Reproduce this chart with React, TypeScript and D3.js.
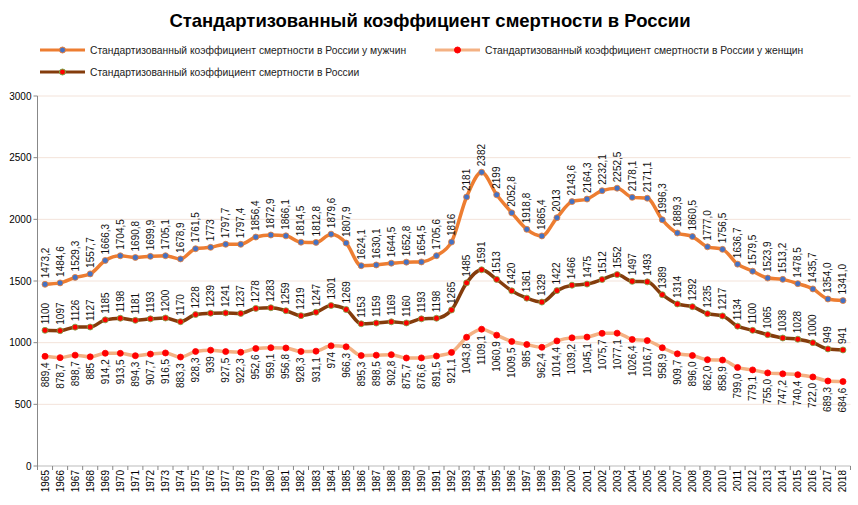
import React from "react";
import * as d3 from "d3";

const years = d3.range(1965, 2019).map(String);
const men = [1473.2,1484.6,1529.3,1557.7,1666.3,1704.5,1690.8,1699.9,1705.1,1678.9,1761.5,1773,1797.7,1797.4,1856.4,1872.9,1866.1,1814.5,1812.8,1879.6,1807.9,1624.1,1630.1,1644.5,1652.8,1654.5,1705.6,1816,2181,2382,2199,2052.8,1918.8,1865.4,2013,2143.6,2164.3,2232.1,2252.5,2178.1,2171.1,1996.3,1889.3,1860.5,1777.0,1756.5,1636.7,1579.5,1523.9,1513.2,1478.5,1435.7,1354.0,1341.0];
const total = [1100,1097,1126,1127,1185,1198,1181,1193,1200,1170,1228,1239,1241,1237,1278,1283,1259,1219,1247,1301,1269,1153,1159,1169,1160,1193,1198,1265,1485,1591,1513,1420,1361,1329,1422,1466,1475,1512,1552,1497,1493,1389,1314,1292,1235,1217,1134,1100,1065,1038,1028,1000,949,941];
const women = [889.4,878.7,898.7,885,914.2,913.5,894.3,907.7,916.5,883.3,928.3,939,927.5,922.3,952.6,959.1,956.8,928.3,931.1,974,966.3,895.3,898.5,902.8,875.7,876.6,891.5,921.1,1043.8,1109.1,1060.9,1009.5,985,962.4,1014.4,1039.2,1045.1,1075.7,1077.1,1026.4,1016.7,958.9,909.7,896.0,862.0,858.9,799.0,779.1,755.0,747.2,740.4,722.0,689.3,684.6];
const yTicks = [0, 500, 1000, 1500, 2000, 2500, 3000];
const names = [
  "Стандартизованный коэффициент смертности в России у мужчин",
  "Стандартизованный коэффициент смертности в России у женщин",
  "Стандартизованный коэффициент смертности в России",
];

const W = 858, H = 505;
const L = 37.5, R = 850.5, T = 96, B = 466;

function fmt(v: number, i: number, fixedFrom: number) {
  const y = 1965 + i;
  const s = (Number.isInteger(v) && y < fixedFrom) ? String(v) : v.toFixed(1);
  return s.replace(".", ",");
}

export default function App() {
  const x = d3.scaleBand().domain(years).range([L, R]);
  const y = d3.scaleLinear().domain([0, 3000]).range([B, T]);
  const cx = (i: number) => (x(years[i]) as number) + x.bandwidth() / 2;
  const line = (arr: number[]) =>
    d3.line<number>().x((_, i) => cx(i)).y((d) => y(d)).curve(d3.curveMonotoneX)(arr) as string;

  const series = [
    { data: men, color: "#ED7D31", mFill: "#4472C4", mStroke: "#ED7D31", above: true, from: 2009 },
    { data: women, color: "#F4B183", mFill: "#FF0000", mStroke: "#FF0000", above: false, from: 2007 },
    { data: total, color: "#843C0C", mFill: "#FF0000", mStroke: "#70AD47", above: true, from: 9999 },
  ];
  const font = "Arial, 'Liberation Sans', sans-serif";

  const legend = [
    { s: series[0], x: 40, y: 50, t: names[0] },
    { s: series[1], x: 435, y: 50, t: names[1] },
    { s: series[2], x: 40, y: 72, t: names[2] },
  ];

  return (
    <svg width={W} height={H} style={{ position: "absolute", left: 0, top: 0, background: "#fff" }} fontFamily={font}>
      <text x={430} y={27} textAnchor="middle" fontSize={18.5} fontWeight="bold">Стандартизованный коэффициент смертности в России</text>
      {legend.map((l, k) => (
        <g key={k}>
          <line x1={l.x} x2={l.x + 45} y1={l.y} y2={l.y} stroke={l.s.color} strokeWidth={3} />
          <circle cx={l.x + 22.5} cy={l.y} r={3} fill={l.s.mFill} stroke={l.s.mStroke} strokeWidth={1} />
          <text x={l.x + 50} y={l.y + 3.5} fontSize={10.3} fill="#222">{l.t}</text>
        </g>
      ))}
      {yTicks.map((t) => (
        <g key={t}>
          <line x1={L} x2={R} y1={y(t)} y2={y(t)} stroke={t === 0 ? "#bbb" : "#f3e3da"} />
          <line x1={L - 4} x2={L} y1={y(t)} y2={y(t)} stroke="#888" />
          <text x={L - 6} y={y(t) + 3.5} textAnchor="end" fontSize={10}>{t}</text>
        </g>
      ))}
      <line x1={L} x2={L} y1={T} y2={B} stroke="#888" />
      {years.map((yr, i) => (
        <g key={yr}>
          <line x1={x(yr) as number} x2={x(yr) as number} y1={B} y2={B + 4} stroke="#888" />
          <text transform={`translate(${cx(i) + 3.5},${B + 4}) rotate(-90)`} textAnchor="end" fontSize={10}>{yr}</text>
        </g>
      ))}
      <line x1={R} x2={R} y1={B} y2={B + 4} stroke="#888" />
      {series.map((s, k) => (
        <g key={k}>
          <path d={line(s.data)} fill="none" stroke={s.color} strokeWidth={3.5} />
          {s.data.map((v, i) => (
            <circle key={i} cx={cx(i)} cy={y(v)} r={3} fill={s.mFill} stroke={s.mStroke} strokeWidth={0.8} />
          ))}
          {s.data.map((v, i) => (
            <text key={"t" + i} fontSize={10} fill="#111"
              transform={`translate(${cx(i) + 3.5},${y(v) + (s.above ? -6 : 6)}) rotate(-90)`}
              textAnchor={s.above ? "start" : "end"}>{fmt(v, i, s.from)}</text>
          ))}
        </g>
      ))}
    </svg>
  );
}
